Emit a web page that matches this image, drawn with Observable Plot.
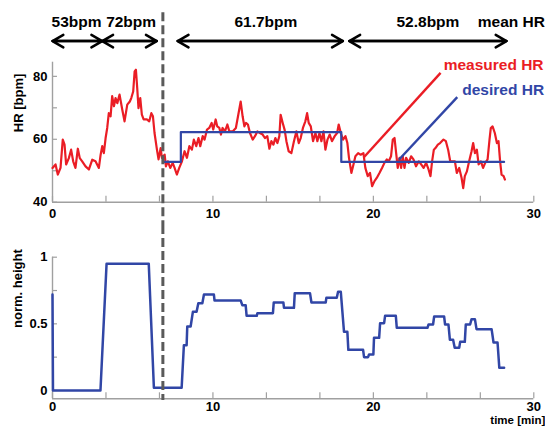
<!DOCTYPE html>
<html><head><meta charset="utf-8">
<script src="https://cdn.jsdelivr.net/npm/d3@7"></script>
<script src="https://cdn.jsdelivr.net/npm/@observablehq/plot@0.6"></script>
<style>
html,body{margin:0;padding:0;background:#fff;}
#chart{width:545px;height:429px;position:relative;overflow:hidden;background:#fff;}
#chart svg{display:block;}
</style></head><body><div id="chart"></div>
<script>
// ---- data ----
const measuredT = [0.00,0.19,0.33,0.50,0.64,0.75,0.85,1.02,1.16,1.29,1.43,1.58,1.70,1.85,2.06,2.27,2.48,2.68,2.89,3.00,3.10,3.20,3.31,3.41,3.51,3.62,3.72,3.83,3.93,4.04,4.18,4.35,4.49,4.66,4.82,4.91,5.03,5.12,5.20,5.28,5.36,5.47,5.57,5.68,5.88,6.03,6.16,6.26,6.36,6.51,6.61,6.74,6.82,6.99,7.07,7.19,7.34,7.49,7.61,7.75,7.90,8.07,8.23,8.38,8.53,8.69,8.81,8.96,9.10,9.21,9.36,9.48,9.63,9.77,9.92,10.02,10.17,10.27,10.40,10.50,10.60,10.75,10.90,11.02,11.23,11.43,11.58,11.73,11.85,11.96,12.06,12.18,12.31,12.48,12.62,12.77,12.93,13.10,13.24,13.39,13.52,13.64,13.77,13.89,14.02,14.14,14.22,14.35,14.47,14.58,14.72,14.89,15.05,15.20,15.35,15.47,15.61,15.76,15.87,15.97,16.10,16.24,16.39,16.51,16.64,16.76,16.89,17.01,17.14,17.28,17.42,17.59,17.74,17.84,17.97,18.11,18.26,18.38,18.48,18.63,18.76,18.88,19.05,19.21,19.38,19.50,19.65,19.79,19.92,20.07,20.21,20.38,20.54,20.69,20.84,20.96,21.10,21.21,21.32,21.42,21.52,21.63,21.73,21.83,21.94,22.04,22.21,22.35,22.50,22.66,22.83,22.98,23.13,23.29,23.44,23.56,23.66,23.77,23.87,24.02,24.16,24.37,24.52,24.66,24.79,24.93,25.08,25.20,25.35,25.50,25.60,25.70,25.83,25.97,26.12,26.22,26.33,26.45,26.56,26.70,26.84,26.97,27.12,27.24,27.32,27.43,27.57,27.70,27.80,27.90,27.99,28.12,28.20];
const measuredHR = [50.9,52.0,48.8,50.9,59.9,58.3,52.0,54.0,56.7,53.0,50.9,57.0,54.0,53.0,51.4,50.4,53.5,53.0,50.9,55.1,57.8,55.6,60.4,63.6,68.3,67.3,73.7,70.5,73.1,71.5,74.2,69.4,65.7,71.0,72.0,73.1,75.2,81.6,82.1,76.3,69.9,73.1,67.8,66.3,66.3,65.7,68.3,67.3,62.0,56.7,53.6,57.2,54.1,55.1,51.4,53.0,50.9,52.5,50.9,48.8,50.9,53.0,56.2,54.1,57.8,56.7,59.9,57.8,60.4,57.8,61.0,59.9,63.1,63.6,65.2,63.1,66.3,64.1,63.6,61.5,63.6,62.5,64.7,62.5,62.5,63.6,67.8,72.0,67.3,64.1,65.2,64.7,62.0,59.9,61.0,62.5,62.0,61.5,60.4,61.0,57.0,59.4,58.3,60.4,58.8,61.0,67.8,65.2,63.0,59.4,56.2,55.6,59.4,62.5,58.8,60.4,63.6,65.7,68.3,65.2,64.1,59.4,62.0,59.4,62.0,59.4,62.5,56.7,59.9,61.5,59.4,61.0,62.0,64.7,62.0,59.9,61.0,58.8,54.1,49.3,52.0,54.6,55.6,55.1,55.6,50.9,48.3,49.3,45.1,46.7,47.7,49.3,50.9,52.5,53.6,53.0,54.6,59.9,60.4,55.6,50.9,54.1,50.9,54.6,50.9,54.1,52.5,54.6,53.6,51.4,53.0,52.0,50.9,52.5,50.4,48.3,53.0,56.7,57.2,58.3,58.8,59.9,59.4,56.7,53.0,53.0,53.0,49.3,50.9,47.7,44.5,48.3,49.8,53.0,56.2,58.8,55.6,56.7,52.0,53.0,50.9,52.5,53.6,59.9,63.6,64.1,62.0,58.8,59.4,53.0,48.8,48.3,47.2];
const desiredT = [6.9, 8.0, 18.0, 28.15];
const desiredHR = [52.8, 62.3, 52.8, 52.8];
const normT = [0,0.03,2.99,3.37,6.0,6.32,8.05,8.19,8.36,8.4,8.61,8.75,8.98,9.09,9.34,9.44,10.06,10.1,11.73,11.83,12.04,12.1,12.73,12.77,13.74,13.79,14.39,14.43,15.05,15.1,16.05,16.14,17.03,17.07,17.72,17.8,17.97,18.17,18.38,18.44,19.36,19.42,19.67,19.73,20.0,20.04,20.36,20.42,20.67,20.73,21.4,21.46,23.37,23.44,23.72,23.79,24.41,24.47,24.68,24.77,24.97,25.07,25.35,25.41,25.7,25.76,26.03,26.12,26.33,26.43,27.37,27.49,27.74,27.85,28.15];
const normH = [0.72,0,0,0.95,0.95,0.02,0.02,0.34,0.34,0.48,0.48,0.59,0.59,0.655,0.655,0.72,0.72,0.675,0.675,0.64,0.64,0.56,0.56,0.58,0.58,0.66,0.66,0.62,0.62,0.73,0.73,0.66,0.66,0.695,0.695,0.74,0.74,0.44,0.44,0.305,0.305,0.25,0.25,0.27,0.27,0.395,0.395,0.505,0.505,0.56,0.56,0.47,0.47,0.495,0.495,0.555,0.555,0.495,0.495,0.38,0.38,0.32,0.32,0.365,0.365,0.495,0.495,0.535,0.535,0.46,0.46,0.36,0.36,0.17,0.17];
const phaseStart = [0, 3.1, 7.8, 18.5];
const phaseEnd = [3.1, 6.5, 18.1, 28.3];
const phaseLabels = ["53bpm", "72bpm", "61.7bpm", "52.8bpm"];
const phaseLabelT = [1.5, 4.9, 13.3, 23.4];
const headerNote = "mean HR";
const headerNoteT = 28.6;
const stimulusT = 6.88;
const timeTicks = [0, 3.333, 6.667, 10, 13.333, 16.667, 20, 23.333, 26.667, 30];
const timeLabels = [0, 10, 20, 30];
const hrTicks = [40, 50, 60, 70, 80];
const hrLabels = [40, 60, 80];
const normTicks = [0, 0.25, 0.5, 0.75, 1];
const normLabels = [0, 0.5, 1];
const legendLabels = ["measured HR", "desired HR"];
const legendFromT = [19.41, 21.59];
const legendFromHR = [54.3, 53.5];
const legendToT = [24.19, 25.23];
const legendToHR = [81.1, 73.4];
const legendTextT = [24.38, 25.54];
const legendTextHR = [83.5, 75.8];

// ---- styling / layout ----
const RED = "#ea1d25", BLUE = "#3146a6", AX = "#a0a0a0", DASH = "#5a5a5a";
const FONT = "'Liberation Sans', Arial, sans-serif";
const ARROW_HR = 91.2, HEADER_HR = 97.3;

const measured = measuredT.map((t, i) => ({t, hr: measuredHR[i]}));
const desired = desiredT.map((t, i) => ({t, hr: desiredHR[i]}));
const norm = normT.map((t, i) => ({t, h: normH[i]}));
const phases = phaseStart.map((s, i) => ({s, e: phaseEnd[i], label: phaseLabels[i], lt: phaseLabelT[i]}));
const legend = legendLabels.map((label, i) => ({label, ft: legendFromT[i], fh: legendFromHR[i], tt: legendToT[i], th: legendToHR[i], xt: legendTextT[i], yt: legendTextHR[i]}));
const LCOL = [RED, BLUE];

const style = {fontFamily: FONT, fontSize: "13px", fontWeight: "bold", background: "transparent", overflow: "visible", color: "black"};

const topPlot = Plot.plot({
  width: 545, height: 225,
  marginLeft: 52, marginRight: 11.7, marginTop: 61.7, marginBottom: 23.3,
  x: {domain: [0, 30]}, y: {domain: [40, 84.5]},
  style,
  marks: [
    Plot.ruleX([0], {y1: 40, y2: 84.5, stroke: AX, strokeWidth: 1.4}),
    Plot.ruleY([40], {x1: 0, x2: 30, stroke: AX, strokeWidth: 1.4}),
    Plot.ruleX(timeTicks, {x: d => d, y1: 40, y2: 41.9, stroke: AX, strokeWidth: 1.2}),
    Plot.ruleY(hrTicks, {y: d => d, x1: 0, x2: 0.31, stroke: AX, strokeWidth: 1.2}),
    Plot.axisX({ticks: timeLabels, tickSize: 0, tickPadding: 7, label: null, fontSize: 13, fontWeight: "bold", tickFormat: d => String(d)}),
    Plot.axisY({ticks: hrLabels, tickSize: 0, tickPadding: 5, label: null, fontSize: 13, fontWeight: "bold", tickFormat: d => String(d)}),
    Plot.text(["HR [bpm]"], {frameAnchor: "left", dx: -34, rotate: -90, fontSize: 13, fontWeight: "bold"}),
    Plot.line(measured, {x: "t", y: "hr", stroke: RED, strokeWidth: 2.2}),
    Plot.line(desired, {x: "t", y: "hr", curve: "step-after", stroke: BLUE, strokeWidth: 2.2}),
    ...legend.map((d, i) => Plot.link([d], {x1: "ft", y1: "fh", x2: "tt", y2: "th", stroke: LCOL[i], strokeWidth: 2.4})),
    ...legend.map((d, i) => Plot.text([d], {x: "xt", y: "yt", text: "label", fill: LCOL[i], textAnchor: "start", fontSize: 15.5, fontWeight: "bold"})),
    Plot.arrow(phases, {x1: "s", x2: "e", y1: ARROW_HR, y2: ARROW_HR, stroke: "black", strokeWidth: 2.5, headLength: 7.5, headAngle: 60}),
    Plot.arrow(phases, {x1: "e", x2: "s", y1: ARROW_HR, y2: ARROW_HR, stroke: "black", strokeWidth: 2.5, headLength: 7.5, headAngle: 60}),
    Plot.text(phases, {x: "lt", y: HEADER_HR, text: "label", fontSize: 15.5, fontWeight: "bold"}),
    Plot.text([headerNote], {x: headerNoteT, y: HEADER_HR, text: d => d, fontSize: 15.5, fontWeight: "bold"}),
    Plot.ruleX([stimulusT], {y1: 100.25, y2: 32.58, stroke: DASH, strokeWidth: 3, strokeDasharray: "9,4"})
  ]
});

const bottomPlot = Plot.plot({
  width: 545, height: 204,
  marginLeft: 52, marginRight: 11.7, marginTop: 31.7, marginBottom: 30.7,
  x: {domain: [0, 30]}, y: {domain: [-0.0625, 1]},
  style,
  marks: [
    Plot.ruleX([0], {y1: -0.0625, y2: 1, stroke: AX, strokeWidth: 1.4}),
    Plot.ruleY([-0.0625], {x1: 0, x2: 30, stroke: AX, strokeWidth: 1.4}),
    Plot.ruleX(timeTicks, {x: d => d, y1: -0.0625, y2: -0.0175, stroke: AX, strokeWidth: 1.2}),
    Plot.ruleY(normTicks, {y: d => d, x1: 0, x2: 0.31, stroke: AX, strokeWidth: 1.2}),
    Plot.axisX({ticks: timeLabels, tickSize: 0, tickPadding: 3, label: null, fontSize: 13, fontWeight: "bold", tickFormat: d => String(d)}),
    Plot.axisY({ticks: normLabels, tickSize: 0, tickPadding: 5, label: null, fontSize: 13, fontWeight: "bold", tickFormat: d => String(d)}),
    Plot.text(["norm. height"], {frameAnchor: "left", dx: -35, rotate: -90, fontSize: 13, fontWeight: "bold"}),
    Plot.text(["time [min]"], {frameAnchor: "bottom-right", dx: 11.5, dy: 25.5, textAnchor: "end", fontSize: 11.5, fontWeight: "bold"}),
    Plot.line(norm, {x: "t", y: "h", stroke: BLUE, strokeWidth: 2.5}),
    Plot.ruleX([stimulusT], {y1: 1.238, y2: -0.075, stroke: DASH, strokeWidth: 3, strokeDasharray: "9,4"})
  ]
});

const chart = document.getElementById("chart");
chart.appendChild(topPlot);
chart.appendChild(bottomPlot);
</script></body></html>
